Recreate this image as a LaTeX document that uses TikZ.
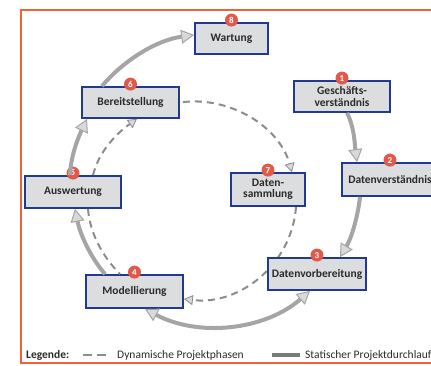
\documentclass[tikz,border=0pt]{standalone}
\usepackage{fontspec}
\setmainfont{Carlito}
\usetikzlibrary{arrows.meta,backgrounds}

\definecolor{frameorange}{HTML}{EE6433}
\definecolor{boxfill}{HTML}{DCDDDE}
\definecolor{boxline}{HTML}{213A8F}
\definecolor{badgered}{HTML}{E05A4C}
\definecolor{flowgray}{HTML}{A5A5A5}
\definecolor{tipfill}{HTML}{D9D9D9}
\definecolor{dashgray}{HTML}{8C8C8C}
\definecolor{legendbar}{HTML}{7A7A7A}
\definecolor{labeltext}{HTML}{2A2A2A}

\tikzset{
  phase/.style={rectangle, draw=boxline, fill=boxfill, line width=1.8pt,
    font=\bfseries\fontsize{11.5}{11.5}\selectfont, text=labeltext,
    align=center, inner sep=0pt},
  badge/.style={circle, fill=badgered, text=white,
    font=\bfseries\fontsize{9}{9}\selectfont, minimum size=13pt, inner sep=0pt},
  bigtip/.tip={Triangle[length=13pt, width=14pt, fill=tipfill, line width=1pt]},
  smalltip/.tip={Triangle[length=9pt, width=10pt, fill=tipfill, line width=0.8pt]},
  flow/.style={draw=flowgray, line width=4pt, -bigtip},
  dynflow/.style={draw=dashgray, line width=2pt, dash pattern=on 7pt off 5pt},
  legendtext/.style={anchor=west, text=labeltext, font=\fontsize{11.5}{12}\selectfont, inner sep=0pt},
}

\begin{document}
\begin{tikzpicture}[x=1pt, y=1pt]
\useasboundingbox (0,0) rectangle (431,366);
\clip (0,0) rectangle (431,366);

% phase boxes
\node[phase, minimum width=73pt, minimum height=31pt] (n8) at (231.5,327.5) {Wartung};
\node[phase, minimum width=97pt, minimum height=31pt] (n6) at (130.5,263.5) {Bereitstellung};
\node[phase, minimum width=96pt, minimum height=31pt] (n1) at (342,269.5) {Geschäfts-\\verständnis};
\node[phase, minimum width=96pt, minimum height=32pt] (n5) at (73,174) {Auswertung};
\node[phase, minimum width=74pt, minimum height=33pt] (n7) at (268,176.5) {Daten-\\sammlung};
\node[phase, minimum width=96pt, minimum height=33pt] (n2) at (390,186.5) {Datenverständnis};
\node[phase, minimum width=98pt, minimum height=32pt] (n3) at (317,92) {Datenvorbereitung};
\node[phase, minimum width=97pt, minimum height=33pt] (n4) at (134.5,74.5) {Modellierung};

% step numbers
\node[badge] (b1) at ([yshift=2pt]n1.north) {1};
\node[badge] (b2) at ([yshift=2pt]n2.north) {2};
\node[badge] (b3) at ([yshift=2pt]n3.north) {3};
\node[badge] (b4) at ([yshift=2pt]n4.north) {4};
\node[badge] (b5) at ([yshift=2pt]n5.north) {5};
\node[badge] (b6) at ([yshift=2pt]n6.north) {6};
\node[badge] (b7) at ([yshift=2pt]n7.north) {7};
\node[badge] (b8) at ([yshift=2pt]n8.north) {8};

% outer frame and the dashed path that runs behind Datenvorbereitung
\begin{scope}[on background layer]
  \draw[frameorange, line width=2pt] (21,3) rectangle (460,356);
  \draw[dynflow, -smalltip] ([xshift=28pt]n7.south)
    to[out=-94, in=-6.9, looseness=1.0] ([yshift=-7.5pt]n4.east);
\end{scope}

% dynamic project phases (inner dashed ring)
\draw[dynflow, -smalltip, shorten <=3pt] (n6.east)
  to[out=7, in=106, looseness=0.95] ([xshift=24pt]n7.north);
\draw[dynflow] ([xshift=15pt]n5.south)
  to[out=274.8, in=134.6, looseness=0.88] ([xshift=-14.5pt]n4.north);
\draw[dynflow, -smalltip] ([xshift=20pt]n5.north)
  to[out=76.2, in=215.3, looseness=0.88] ([xshift=6.5pt]n6.south);

% static project flow (outer ring)
\draw[flow] ([xshift=5pt]n1.south)
  to[out=-63, in=97.6, looseness=0.855] ([xshift=-33pt]n2.north);
\draw[flow] ([xshift=-30pt]n2.south)
  to[out=-96.3, in=59, looseness=0.86] ([xshift=23pt]n3.north);
\draw[flow, bigtip-bigtip] ([xshift=-7pt]n3.south)
  to[out=-139, in=-28, looseness=0.93] ([xshift=10.5pt]n4.south);
\draw[flow] ([xshift=-29.5pt]n4.north)
  to[out=130.5, in=-78.6, looseness=0.865] ([xshift=2pt]n5.south);
\draw[flow] ([xshift=-3pt]n5.north)
  to[out=87.6, in=244.7, looseness=0.86] ([xshift=-43.5pt]n6.south);
\draw[flow] ([xshift=-28.5pt]n6.north)
  to[out=49.7, in=187.8, looseness=0.88] ([yshift=3.5pt]n8.west);

% legend
\node[legendtext, font=\bfseries\fontsize{11.5}{12}\selectfont] (leg) at (26,11) {Legende:};
\coordinate (ld1) at (83,11);
\coordinate (ld2) at (110,11);
\draw[dynflow, dash pattern=on 9pt off 5pt] (ld1) -- (ld2);
\node[legendtext] (legdyn) at (117,11) {Dynamische Projektphasen};
\coordinate (lb1) at (272,11);
\coordinate (lb2) at (300,11);
\draw[legendbar, line width=3.5pt] (lb1) -- (lb2);
\node[legendtext] (legstat) at (305,11) {Statischer Projektdurchlauf};
\end{tikzpicture}
\end{document}
